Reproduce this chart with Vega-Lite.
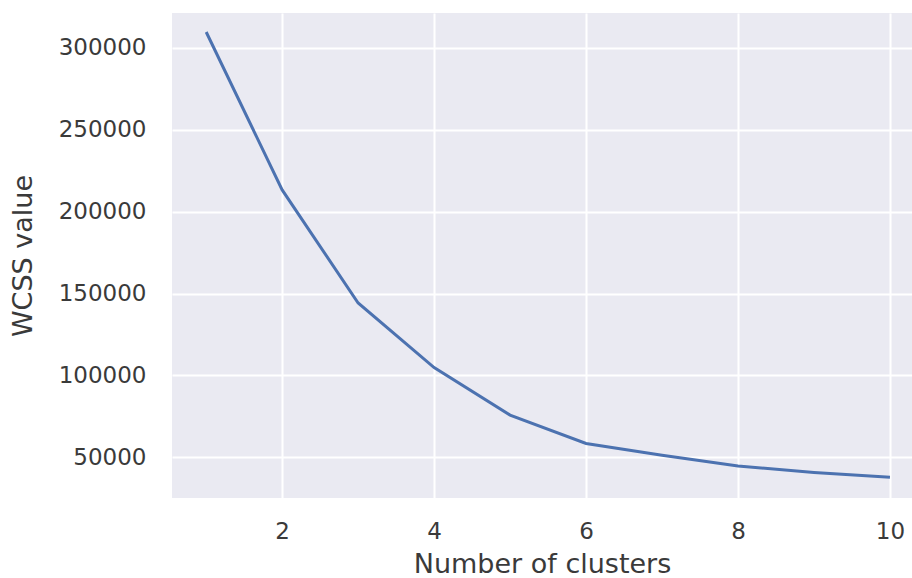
{
  "$schema": "https://vega.github.io/schema/vega-lite/v6.json",
  "autosize": "none",
  "width": 740,
  "height": 485,
  "padding": {"left": 172, "top": 13, "right": 0, "bottom": 80},
  "background": "white",
  "config": {
    "view": {"fill": "#EAEAF2", "stroke": null},
    "font": "DejaVu Sans",
    "axis": {
      "domain": false,
      "ticks": false,
      "grid": true,
      "gridColor": "white",
      "gridWidth": 2,
      "labelFont": "DejaVu Sans",
      "labelFontSize": 23,
      "labelColor": "#3a3a3a",
      "titleFont": "DejaVu Sans",
      "titleFontSize": 27,
      "titleFontWeight": "normal",
      "titleColor": "#3a3a3a"
    }
  },
  "data": {
    "values": [
      {"k": 1, "wcss": 309600},
      {"k": 2, "wcss": 213200},
      {"k": 3, "wcss": 144200},
      {"k": 4, "wcss": 104800},
      {"k": 5, "wcss": 75800},
      {"k": 6, "wcss": 58500},
      {"k": 7, "wcss": 51300},
      {"k": 8, "wcss": 44700},
      {"k": 9, "wcss": 40800},
      {"k": 10, "wcss": 37800}
    ]
  },
  "mark": {"type": "line", "color": "#4C72B0", "strokeWidth": 3, "clip": true},
  "encoding": {
    "x": {
      "field": "k",
      "type": "quantitative",
      "title": "Number of clusters",
      "scale": {"domain": [0.55, 10.29], "nice": false, "zero": false},
      "axis": {"values": [2, 4, 6, 8, 10], "labelPadding": 22, "titlePadding": 8}
    },
    "y": {
      "field": "wcss",
      "type": "quantitative",
      "title": "WCSS value",
      "scale": {"domain": [25200, 321200], "nice": false, "zero": false},
      "axis": {"values": [50000, 100000, 150000, 200000, 250000, 300000], "format": "d", "labelPadding": 26, "titlePadding": 21}
    }
  }
}
